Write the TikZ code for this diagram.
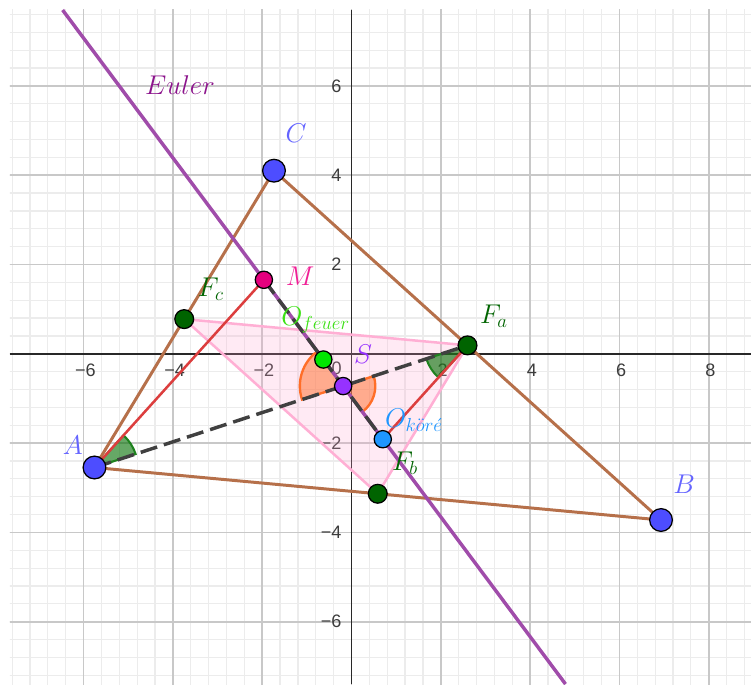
\documentclass[tikz,border=0pt]{standalone}
\usepackage{fontspec}
\newfontfamily\ticksf{Liberation Sans}
\usetikzlibrary{calc}
\definecolor{brownE}{RGB}{182,112,74}
\definecolor{eulerC}{RGB}{160,76,170}
\definecolor{eulerL}{RGB}{140,20,140}
\definecolor{ptblue}{RGB}{77,77,255}
\definecolor{lblblue}{RGB}{100,100,255}
\definecolor{ptgreen}{RGB}{0,100,0}
\definecolor{ptmag}{RGB}{229,0,126}
\definecolor{lblmag}{RGB}{240,30,150}
\definecolor{ptlime}{RGB}{0,230,0}
\definecolor{lbllime}{RGB}{60,225,20}
\definecolor{ptviolet}{RGB}{150,50,255}
\definecolor{ptsky}{RGB}{30,150,255}
\definecolor{redE}{RGB}{220,62,62}
\definecolor{pinkE}{RGB}{255,175,212}
\definecolor{pinkF}{RGB}{255,160,205}
\definecolor{gridminor}{RGB}{236,236,236}
\definecolor{gridmajor}{RGB}{200,200,200}
\definecolor{axisC}{RGB}{40,40,40}
\definecolor{tickC}{RGB}{60,60,60}
\definecolor{angGreenF}{RGB}{0,110,0}
\definecolor{angGreenD}{RGB}{30,130,30}
\definecolor{angOrF}{RGB}{255,120,60}
\definecolor{angOrD}{RGB}{255,110,40}
\tikzset{
  minorline/.style={draw=gridminor, line width=0.8pt},
  majorline/.style={draw=gridmajor, line width=1pt},
  axisline/.style={draw=axisC, line width=1.2pt},
  ticklbl/.style={text=tickC, font=\ticksf\fontsize{11.5}{13}\selectfont, inner sep=0pt},
  tri/.style={draw=brownE, line width=1.9pt},
  eulerline/.style={draw=eulerC, line width=2.2pt},
  redseg/.style={draw=redE, line width=1.6pt},
  dashseg/.style={draw=black!75, line width=2.2pt, dash pattern=on 11pt off 4.5pt},
  medialfill/.style={fill=pinkF, fill opacity=0.22},
  medial/.style={draw=pinkE, line width=1.6pt},
  greenang/.style={fill=angGreenF, fill opacity=0.6, draw=angGreenD, line width=1.3pt},
  orang/.style={fill=angOrF, fill opacity=0.55, draw=angOrD, line width=1.5pt},
  ptbig/.style={circle, draw=black, line width=0.8pt, minimum size=14.5pt, inner sep=0pt},
  ptmid/.style={circle, draw=black, line width=0.8pt, minimum size=12pt, inner sep=0pt},
  ptsmall/.style={circle, draw=black, line width=0.8pt, minimum size=11pt, inner sep=0pt},
  lbl/.style={font=\fontsize{17.28}{20}\selectfont, inner sep=0pt}
}
\begin{document}
\begin{tikzpicture}[x=1cm,y=1cm]
\useasboundingbox (-7.872,-7.395) rectangle (8.947,7.924);
\fill[white] (-7.872,-7.395) rectangle (8.947,7.924);
% grid
\begin{scope}
\clip (-7.65,-7.395) rectangle (8.947,7.70);
\foreach \i in {-19,...,22} \draw[minorline] (\i*0.4,-7.5) -- (\i*0.4,7.8);
\foreach \i in {-18,...,19} \draw[minorline] (-7.7,\i*0.4) -- (9,\i*0.4);
\foreach \x in {-6,-4,...,8} \draw[majorline] (\x,-7.5) -- (\x,7.8);
\foreach \y in {-6,-4,...,6} \draw[majorline] (-7.7,\y) -- (9,\y);
\end{scope}
\coordinate (xl) at (-7.65,0);
\coordinate (xr) at (8.947,0);
\coordinate (yb) at (0,-7.395);
\coordinate (yt) at (0,7.70);
\draw[axisline] (xl) -- (xr);
\draw[axisline] (yb) -- (yt);
% tick labels
\foreach \x/\t in {-6/−6,-4/−4,-2/−2,2/2,4/4,6/6,8/8}
  \node[ticklbl] (tx\x) at (\x+0.04,-0.37) {\t};
\foreach \y/\t in {-6/−6,-4/−4,-2/−2,2/2,4/4,6/6}
  \node[ticklbl, anchor=east] (ty\y) at (-0.22,\y) {\t};
\node[ticklbl] (t0) at (-0.33,-0.33) {0};
% points
\coordinate (A) at (-5.756,-2.546);
\coordinate (B) at (6.932,-3.722);
\coordinate (C) at (-1.736,4.101);
\coordinate (Fa) at (2.598,0.1895);
\coordinate (Fb) at (0.588,-3.134);
\coordinate (Fc) at (-3.746,0.7775);
\coordinate (S) at (-0.1867,-0.7223);
\coordinate (O) at (0.701,-1.912);
\coordinate (H) at (-1.962,1.657);
\coordinate (N) at (-0.6305,-0.1275);
\coordinate (E1) at (-6.47,7.70);
\coordinate (E2) at (4.792,-7.395);
% medial triangle
\fill[medialfill] (Fa) -- (Fb) -- (Fc) -- cycle;
\draw[medial, line join=round] (Fa) -- (Fb) -- (Fc) -- cycle;
% angle markers
\draw[greenang] (A) -- ++(18.13:0.97) arc[start angle=18.13, end angle=47.93, radius=0.97] -- cycle;
\draw[greenang] (Fa) -- ++(198.13:0.97) arc[start angle=198.13, end angle=227.93, radius=0.97] -- cycle;
\draw[orang] (S) -- ++(126.7:0.97) arc[start angle=126.7, end angle=198.13, radius=0.97] -- cycle;
\draw[orang] (S) -- ++(-53.3:0.72) arc[start angle=-53.3, end angle=18.13, radius=0.72] -- cycle;
% triangle
\draw[tri, line join=round] (A) -- (B) -- (C) -- cycle;
% Euler line
\draw[eulerline] (E1) -- (E2);
% red segments
\draw[redseg] (A) -- (H);
\draw[redseg] (O) -- (Fa);
% dashed
\draw[dashseg] (A) -- (Fa);
\draw[dashseg] (H) -- (O);
% point markers
\node[ptbig, fill=ptblue] (pA) at (A) {};
\node[ptbig, fill=ptblue] (pB) at (B) {};
\node[ptbig, fill=ptblue] (pC) at (C) {};
\node[ptmid, fill=ptgreen] (pFa) at (Fa) {};
\node[ptmid, fill=ptgreen] (pFb) at (Fb) {};
\node[ptmid, fill=ptgreen] (pFc) at (Fc) {};
\node[ptsmall, fill=ptmag] (pH) at (H) {};
\node[ptsmall, fill=ptlime] (pN) at (N) {};
\node[ptsmall, fill=ptviolet] (pS) at (S) {};
\node[ptsmall, fill=ptsky] (pO) at (O) {};
% labels
\node[lbl, text=eulerL] (lE) at (-3.84,6.01) {$Euler$};
\node[lbl, text=lblblue] (lA) at (-6.24,-2.04) {$A$};
\node[lbl, text=lblblue] (lB) at (7.45,-2.93) {$B$};
\node[lbl, text=lblblue] (lC) at (-1.24,4.94) {$C$};
\node[lbl, text=lblmag] (lM) at (-1.15,1.74) {$M$};
\node[lbl, text=ptgreen] (lFc) at (-3.15,1.45) {$F_c$};
\node[lbl, text=ptgreen] (lFa) at (3.19,0.85) {$F_a$};
\node[lbl, text=ptgreen] (lFb) at (1.20,-2.46) {$F_b$};
\node[lbl, text=lbllime] (lN) at (-0.80,0.75) {$O_{feuer}$};
\node[lbl, text=ptviolet] (lS) at (0.26,-0.02) {$S$};
\node[lbl, text=ptsky] (lO) at (1.40,-1.48) {$O_{k\ddot{o}r\acute{e}}$};
\end{tikzpicture}
\end{document}
